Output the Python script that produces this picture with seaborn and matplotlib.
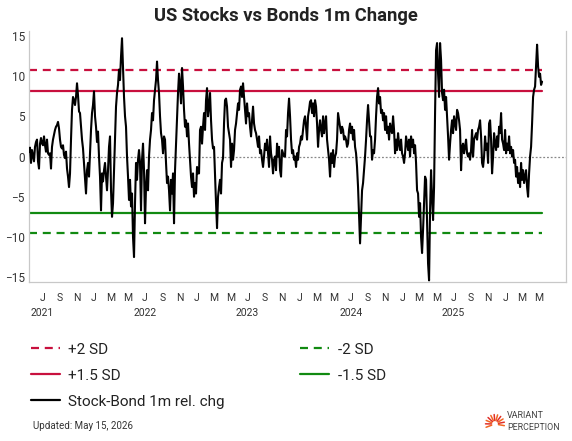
import matplotlib
matplotlib.use('Agg')
import matplotlib.pyplot as plt
import matplotlib.transforms as mtransforms
from matplotlib.lines import Line2D
import numpy as np
import pandas as pd
import seaborn as sns


TITLE = 'US Stocks vs Bonds 1m Change'
UPDATED = 'Updated: May 15, 2026'
START = '2021-05-15'
END = '2026-05-12'

# Stock-Bond 1m relative change (evenly spaced in time)
REL_CHG = [
    0.6, 1.1, -0.8, 0.8, 0.1, -0.6, 1.2, 1.8, 2.1, -0.6, -1.5, 1.6, 2.3, 1.6, 1.4, 2.5, 1.4, 0.6, 2.1, 0.4,
    0.2, 0.4, -1.5, 1.2, 2.1, 2.7, 3.3, 3.7, 3.9, 4.3, 3.5, 2.1, 1.2, 1.0, 1.4, 0.2, -0.2, 0.6, -1.5, -2.5,
    -3.8, -2.1, 2.1, 5.8, 7.4, 7.0, 6.4, 7.4, 9.1, 7.6, 5.6, 5.4, 3.7, 2.1, 1.0, -0.8, -2.5, -4.6, -1.7, -0.8,
    -2.5, 0.4, 3.3, 5.4, 6.4, 8.1, 5.0, 3.7, 1.8, 3.1, 0.0, -2.5, -6.7, -2.1, -3.1, -1.7, -0.8, -2.5, -4.2, -1.7,
    1.2, 2.5, -4.2, -7.5,
    -5.8, -1.7, 2.1, 6.2, 7.9, 8.9, 10.8, 9.5, 12.4, 14.7, 11.2, 7.4, 5.0, 3.7, 0.0, -2.5, -5.4, -2.9, -6.2, -4.6,
    -10.0, -12.5, -5.8, -0.8, -2.9, -0.4, 0.8, -0.8, -6.7, -0.4, 1.6, -1.7, -8.3, -3.8, -1.7, -4.2, 0.0, 2.1, 3.3, 5.4,
    4.5, 7.0, 8.3, 9.5, 11.8, 9.5, 7.9, 5.0, 2.9, 2.1, 0.4, 2.5, 2.1, -0.8, -3.3, -2.5, -4.2, -6.7, -2.9, -4.6,
    -2.1, -8.3, -1.7, 1.6, 5.0, 7.9, 10.3, 8.9, 6.6, 11.0, 8.7, 5.8, 3.7, 4.5, 2.5, 4.1, 1.6, -0.4, -2.5, -3.8,
    -2.1, -5.0, -3.3, -4.6, -1.3, -2.1,
    -2.1, 3.3, 3.7, 1.6, 3.7, 5.4, 3.3, 7.0, 8.5, 5.0, 6.2, 7.9, 4.5, 2.1, 1.0, 1.2, -2.5, -5.8, -8.9, -5.0,
    -3.8, -2.9, -4.6, -0.8, -0.2, 4.1, 7.0, 7.2, 6.2, 3.7, 2.9, 2.1, -1.3, 1.6, -0.4, 0.8, 3.3, 4.1, 5.4, 6.6,
    5.8, 8.3, 8.7, 7.4, 9.1, 7.4, 5.8, 4.1, 6.6, 5.0, 5.4, 3.7, 2.5, 4.5, 6.2, 4.1, 3.3, 2.9, 2.1, 1.2,
    2.5, 0.4, 0.8, -0.4, -1.3, 0.0, 1.6, 0.8, 2.1, 0.4, -1.3, 2.5, 0.4, -0.4, -2.1, -0.4, 0.0, -1.7, 1.6, 0.0,
    1.2, -1.7, -2.5, 0.8, 0.4, 0.0,
    0.0, 3.3, 2.5, 5.4, 7.2, 5.0, 2.1, 0.4, 0.8, -0.4, 0.0, -1.3, 0.4, -0.4, 1.2, 1.6, 2.5, 2.1, 3.3, 4.5,
    5.0, 3.7, 2.1, 5.0, 5.8, 6.8, 7.0, 5.4, 6.6, 5.0, 7.0, 6.2, 4.1, 1.2, 3.3, 4.5, 3.3, 2.5, 5.0, 2.9,
    4.1, 5.0, 2.1, 0.8, -0.4, -2.5, 0.4, -0.8, 0.8, -1.3, 0.0, 0.4, 2.1, 5.4, 4.5, 3.7, 2.9, 3.7, 3.3, 2.1,
    2.5, 2.1, 1.2, 1.6, 3.3, 4.1, 2.9, 3.7, 2.1, 3.3, 1.2, 0.4, -1.3, -3.8, -7.5, -10.8, -7.5, -4.2, -3.3, -1.7,
    0.0, 2.1, 4.5, 6.4, 4.5, 2.5,
    2.5, -0.4, 0.8, 0.4, 2.1, 5.0, 7.4, 8.5, 6.6, 7.4, 5.4, 5.8, 4.5, 5.4, 3.3, 5.0, 2.9, 3.7, 2.1, 4.1,
    3.3, 2.9, 5.0, 3.3, 0.4, 2.1, 0.8, 2.9, 1.6, 0.8, 2.1, 0.4, 0.0, -0.8, 0.4, 2.5, 1.6, 0.8, 2.1, 0.0,
    2.5, 1.2, 2.1, 0.4, 1.4, -0.8, -4.2, -4.6, -7.5, -5.8, -10.0, -12.0, -9.1, -5.8, -2.5, -2.9, -7.9, -13.3, -15.4, -6.7,
    -1.7, -5.0, -7.9, -3.8, 5.4, 13.2, 14.1, 10.3, 7.4, 14.1, 12.0, 7.9, 7.0, 8.3, 5.8, 7.4, 5.0, 2.5, -0.4, 1.6,
    3.3, 4.5, 2.9, 5.0, 4.1, 3.3,
    5.8, 5.4, 4.5, 3.3, -1.7, 1.2, 1.6, 0.4, 1.2, 2.1, 0.4, 0.0, 0.4, -0.4, 0.8, 3.3, 0.0, 2.1, 2.5, 2.9,
    2.1, 3.3, 3.7, 4.5, 2.5, -0.8, -1.3, 0.0, 2.5, 0.8, 1.6, -0.8, 4.1, 4.5, 2.1, -2.1, 0.0, 2.9, 1.6, 0.8,
    2.5, 1.2, 3.7, 2.9, 5.4, 2.1, 1.6, 0.8, 3.3, 0.4, 1.6, 0.8, 2.5, 0.4, 1.2, 0.0, 0.8, -0.8, -0.4, -2.5,
    -1.3, -3.3, -2.1, -3.8, -0.8, -2.9, -1.7, -3.3, -2.5, -1.7, -3.8, -5.0, -2.1, 0.0, 1.2, 4.1, 7.4, 8.3, 8.7, 11.2,
    13.9, 11.2, 9.9, 10.3, 8.9, 9.3,
]

PLUS_2SD = 10.7
PLUS_15SD = 8.15
MINUS_15SD = -7.0
MINUS_2SD = -9.5

MONTH_TICKS = pd.date_range('2021-07-01', '2026-05-01', freq='2MS')
YEARS = [2021, 2022, 2023, 2024, 2025]
Y_TICKS = [-15, -10, -5, 0, 5, 10, 15]

RED = '#C8103E'
GREEN = '#118A11'
DASH = (0, (3.6, 2.6))

W, H = 572, 441

sns.set_style('white')
plt.rcParams['font.family'] = ['Roboto', 'DejaVu Sans']
plt.rcParams['axes.unicode_minus'] = True

dates = pd.date_range(START, END, periods=len(REL_CHG))
df = pd.DataFrame({'date': dates, 'val': REL_CHG})

fig = plt.figure(figsize=(W / 100, H / 100), dpi=100)
ax = fig.add_axes([29 / W, 1 - 282 / H, (566 - 29) / W, (282 - 31) / H])

ax.axhline(0, color='#888888', lw=0.9, ls=(0, (1.5, 1.5)), zorder=1)

sns.lineplot(x=dates, y=[PLUS_2SD] * len(dates), ax=ax, color=RED, lw=1.6, ls=DASH, zorder=2)
sns.lineplot(x=dates, y=[PLUS_15SD] * len(dates), ax=ax, color=RED, lw=1.6, zorder=2)
sns.lineplot(x=dates, y=[MINUS_2SD] * len(dates), ax=ax, color=GREEN, lw=1.6, ls=DASH, zorder=2)
sns.lineplot(x=dates, y=[MINUS_15SD] * len(dates), ax=ax, color=GREEN, lw=1.6, zorder=2)
sns.lineplot(data=df, x='date', y='val', ax=ax, color='black', lw=1.5, zorder=3)

ax.set_xlim(dates[0], pd.Timestamp('2026-08-05'))
ax.set_ylim(-15.6, 15.6)
ax.set_xlabel('')
ax.set_ylabel('')

ax.set_xticks(MONTH_TICKS)
ax.set_xticklabels([d.strftime('%b')[0] for d in MONTH_TICKS])
ax.set_yticks(Y_TICKS)
ax.tick_params(axis='x', direction='out', length=4, width=0.8, color='#cccccc',
               labelsize=7.5, labelcolor='#333333', pad=4)
ax.tick_params(axis='y', direction='in', length=3.5, width=0.8, color='#cccccc',
               labelsize=8.5, labelcolor='#333333', pad=3)

for s in ['left', 'right', 'bottom']:
    ax.spines[s].set_color('#c8c8c8')
    ax.spines[s].set_linewidth(0.9)
ax.spines['top'].set_visible(False)

trans = mtransforms.blended_transform_factory(ax.transData, ax.transAxes)
for y in YEARS:
    ax.text(pd.Timestamp(f'{y}-07-01'), -0.124, str(y), transform=trans,
            ha='center', va='center', fontsize=7.5, color='#333333')

fig.text(0.5, 1 - 16 / H, TITLE, ha='center', va='center', fontsize=13.2,
         fontweight='semibold', color='#222222')

handles = [
    Line2D([], [], color=RED, lw=1.6, ls=DASH),
    Line2D([], [], color=RED, lw=1.6),
    Line2D([], [], color='black', lw=1.6),
    Line2D([], [], color=GREEN, lw=1.6, ls=DASH),
    Line2D([], [], color=GREEN, lw=1.6),
]
labels = ['+2 SD', '+1.5 SD', 'Stock-Bond 1m rel. chg', '-2 SD', '-1.5 SD']
fig.legend(handles, labels, loc='upper left', bbox_to_anchor=(17 / W, 1 - 329 / H),
           ncol=2, frameon=False, fontsize=11, handlelength=1.9, handletextpad=0.55,
           columnspacing=4.95, labelspacing=0.78, labelcolor='#222222')

fig.text(33 / W, 1 - 426 / H, UPDATED, ha='left', va='center', fontsize=7, color='#333333')

# small sunburst logo
cx, cy = 495, 424
for i, ang in enumerate(np.linspace(-10, 200, 11)):
    a = np.deg2rad(ang)
    r0, r1 = 3.5, 9.5
    col = '#F26522' if i % 2 == 0 else '#E0302A'
    fig.add_artist(Line2D([(cx + r0 * np.cos(a)) / W, (cx + r1 * np.cos(a)) / W],
                          [1 - (cy - r0 * np.sin(a)) / H, 1 - (cy - r1 * np.sin(a)) / H],
                          color=col, lw=1.1, transform=fig.transFigure))
fig.text(507 / W, 1 - 415 / H, 'VARIANT', ha='left', va='center', fontsize=6.4, color='#444444')
fig.text(507 / W, 1 - 427 / H, 'PERCEPTION', ha='left', va='center', fontsize=6.4, color='#444444')

fig.savefig('out.png', dpi=100)
